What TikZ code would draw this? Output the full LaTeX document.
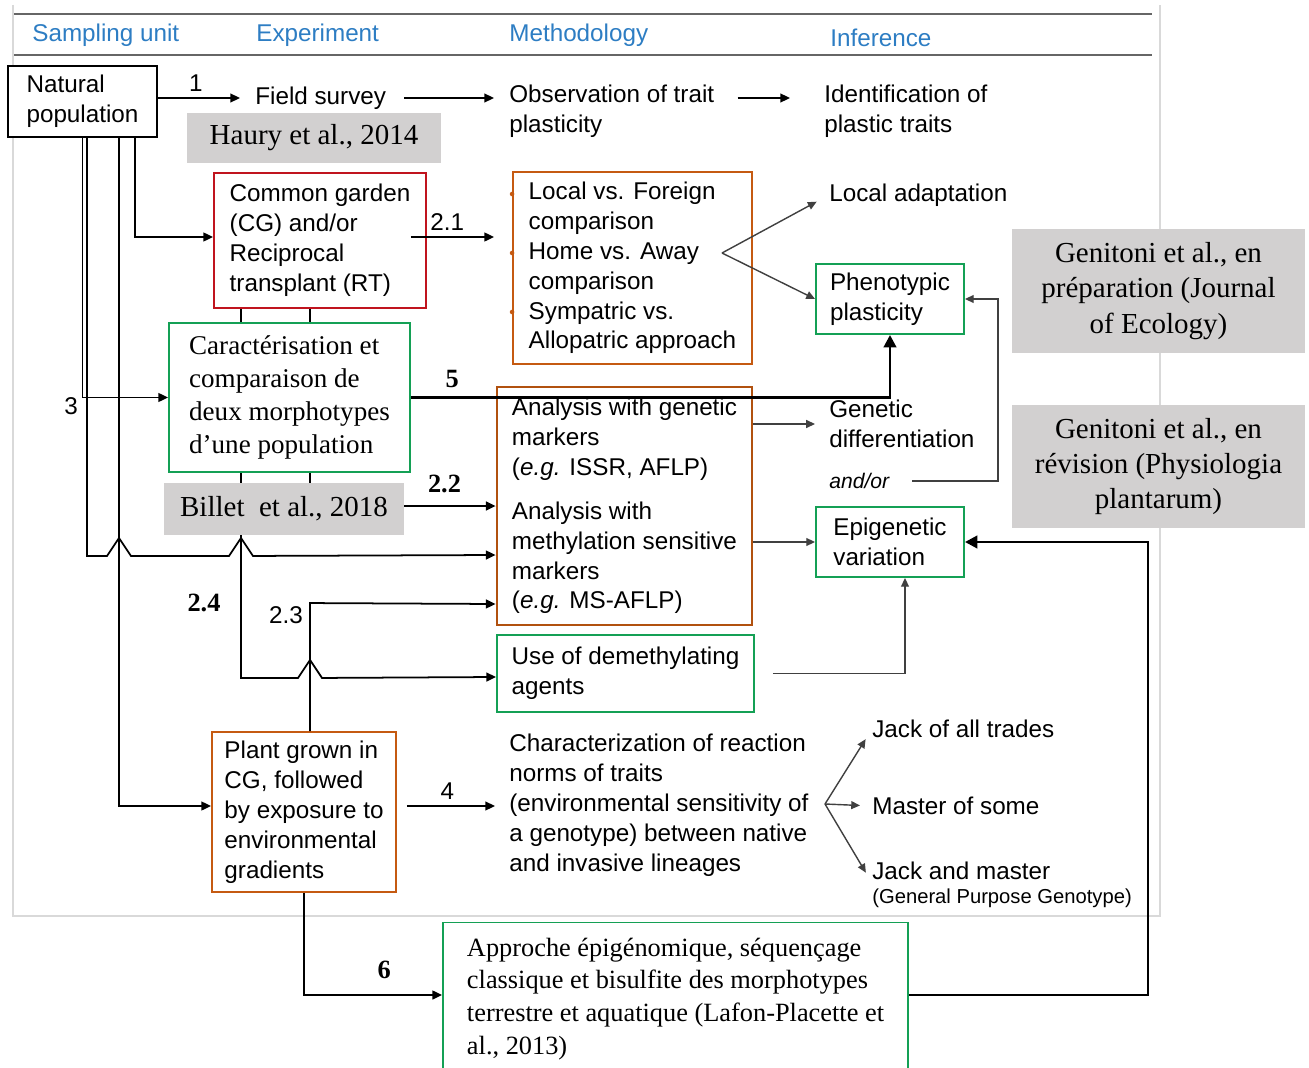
\documentclass[tikz,border=0pt]{standalone}
\usepackage{fontspec}
\setmainfont{Liberation Serif}
\setsansfont{Liberation Sans}
\usetikzlibrary{arrows.meta,backgrounds}

\definecolor{hdrblue}{RGB}{45,125,195}
\definecolor{cgred}{RGB}{192,20,30}
\definecolor{orng}{RGB}{197,90,17}
\definecolor{grn}{RGB}{20,160,85}
\definecolor{refgray}{RGB}{210,208,208}

\tikzset{
  sans/.style={font=\sffamily\fontsize{13.8}{17}\selectfont},
  serif/.style={font=\rmfamily\fontsize{15.4}{18.7}\selectfont},
  txt/.style={sans, align=left, inner sep=0pt, anchor=west},
  hdr/.style={sans, text=hdrblue, inner sep=0pt, anchor=west},
  box/.style={draw, sans, line width=1.1pt, fill=white, align=left, inner sep=0pt},
  ref/.style={fill=refgray, font=\rmfamily\fontsize{16.5}{20}\selectfont, align=center, inner sep=0pt},
  num/.style={sans, inner sep=1pt},
  bnum/.style={font=\rmfamily\bfseries\fontsize{15}{18}\selectfont, inner sep=1pt},
  arr/.style={-{Triangle[length=5.5pt,width=5pt]}, line width=1pt},
  thinarr/.style={-{Triangle[length=5pt,width=4.5pt]}, line width=0.8pt, black!75},
  thickarr/.style={-{Triangle[length=7pt,width=7pt]}, line width=1.6pt},
}

\begin{document}
\begin{tikzpicture}[x=0.02cm, y=-0.02cm]
\useasboundingbox (0,0) rectangle (1309,1068);

% Panel frame and header rules
\draw[black!15, line width=0.6pt] (13,5) -- (13,916) -- (1160,916) -- (1160,5);
\draw[black!60, line width=1.1pt] (14,14) -- (1152,14);
\draw[black!60, line width=1.1pt] (14,55) -- (1152,55);

% Column headers
\node[hdr] (hsamp) at (32,35) {Sampling unit};
\node[hdr] (hexp) at (256,35) {Experiment};
\node[hdr] (hmeth) at (509,35) {Methodology};
\node[hdr] (hinf) at (830,38) {Inference};

% Field survey row
\node[box, minimum width=2.98cm, minimum height=1.42cm] (natpop) at (82.5,101.5) {Natural\\population};
\node[txt] (field) at (255,98) {Field survey};
\node[txt] (obs) at (509,111) {Observation of trait\\plasticity};
\node[txt] (ident) at (824,111) {Identification of\\plastic traits};
\node[ref, minimum width=5.08cm, minimum height=1cm] (haury) at (314,138) {Haury et al., 2014};

% Common garden row
\node[box, draw=cgred, minimum width=4.24cm, minimum height=2.7cm] (cg) at (320,240.5) {Common garden\\(CG) and/or\\Reciprocal\\transplant (RT)};
\node[box, draw=orng, minimum width=4.78cm, minimum height=3.84cm] (local) at (632.5,268) {Local vs. Foreign\\comparison\\Home vs. Away\\comparison\\Sympatric vs.\\Allopatric approach};
\foreach \yb in {194,253,312}
  \fill[orng] (local.west |- 0,\yb) circle (1.3pt);
\node[txt] (locad) at (829,195) {Local adaptation};
\node[box, draw=grn, minimum width=2.96cm, minimum height=1.4cm] (pheno) at (890,299) {Phenotypic\\plasticity};
\node[ref, minimum width=5.86cm, minimum height=2.48cm] (genprep) at (1158.5,291) {Genitoni et al., en\\préparation (Journal\\of Ecology)};

% Markers row
\node[box, serif, draw=grn, minimum width=4.82cm, minimum height=2.98cm] (caract) at (289.5,397.5) {Caractérisation et\\comparaison de\\deux morphotypes\\d'une population};
\node[box, draw=orng!90!black, line width=1.6pt, minimum width=5.1cm, minimum height=4.76cm] (analysis) at (624.5,506) {Analysis with genetic\\markers\\(\textit{e.g.} ISSR, AFLP)\\[8pt]Analysis with\\methylation sensitive\\markers\\(\textit{e.g.} MS-AFLP)};
\node[txt] (gendiff) at (829,424) {Genetic\\differentiation};
\node[txt, font=\sffamily\itshape\fontsize{12}{14}\selectfont] (andor) at (829,481) {and/or};
\node[box, draw=grn, minimum width=2.96cm, minimum height=1.4cm] (epi) at (890,542) {Epigenetic\\variation};
\node[ref, minimum width=5.86cm, minimum height=2.46cm] (genrev) at (1158.5,466.5) {Genitoni et al., en\\révision (Physiologia\\plantarum)};
\node[ref, minimum width=4.8cm, minimum height=1.04cm] (billet) at (284,509) {Billet\ \ et al., 2018};
\node[box, draw=grn, minimum width=5.14cm, minimum height=1.54cm] (demeth) at (625.5,673.5) {Use of demethylating\\agents};

% Reaction norms row
\node[box, draw=orng, minimum width=3.68cm, minimum height=3.2cm] (plant) at (304,812) {Plant grown in\\CG, followed\\by exposure to\\environmental\\gradients};
\node[txt] (charac) at (509,805) {Characterization of reaction\\norms of traits\\(environmental sensitivity of\\a genotype) between native\\and invasive lineages};
\node[txt] (jack1) at (872,729) {Jack of all trades};
\node[txt] (master) at (872,806) {Master of some};
\node[txt] (jack2) at (872,871) {Jack and master};
\node[txt, font=\sffamily\fontsize{11.5}{14}\selectfont] (gpg) at (872,898) {(General Purpose Genotype)};

% Epigenomics
\node[box, font=\rmfamily\fontsize{15}{18.7}\selectfont, draw=grn, minimum width=9.3cm, minimum height=3.06cm] (approche) at (675.5,999) {Approche épigénomique, séquençage\\classique et bisulfite des morphotypes\\terrestre et aquatique (Lafon-Placette et\\al., 2013)};

% Lines hidden behind the boxes
\begin{pgfonlayer}{background}
\draw[arr] ([xshift=-1.58cm]cg.south) -- ++(0,369) -- ++(57,0) -- ++(12,-18) -- ++(12,18) -- (demeth.west |- 0,677);
\draw[line width=1pt] ([xshift=-0.2cm]cg.south) -- ++(0,175);
\end{pgfonlayer}

% Connectors
\draw[arr, shorten >=0.3cm] (natpop.east |- field.west) -- node[num, above=2pt, pos=0.39] {1} (field.west);
\draw[arr, shorten <=0.36cm, shorten >=0.3cm] (field.east) -- (field.east -| obs.west);
\draw[arr, shorten <=0.46cm, shorten >=0.68cm] (obs.east |- field.east) -- (ident.west |- field.east);

\draw[arr] ([xshift=1.05cm]natpop.south) |- ([yshift=0.07cm]cg.west);
\draw[arr, shorten >=0.36cm] ([xshift=-0.32cm, yshift=0.07cm]cg.east) -- node[num, above=2pt, pos=0.36] {2.1} ([yshift=0.07cm]cg.east -| local.west);

\coordinate (fork1) at (722,253);
\draw[thinarr, shorten >=0.28cm] (fork1) -- (locad.west);
\draw[thinarr] (fork1) -- (pheno.west);

\draw[arr] (natpop.south) |- (caract.west);
\node[num] (lab3) at (71,406) {3};
\draw[thickarr] (caract.east) -| node[bnum, above=4pt, pos=0.043] {5} (pheno.south);

\draw[arr] ([xshift=0.09cm]natpop.south) -- ++(0,418) -- ++(20,0) -- ++(12,-18) -- ++(12,18) -- ++(98,0) -- ++(12,-18) -- ++(12,18) -- (analysis.west |- 0,555);
\draw[arr] ([xshift=0.73cm]natpop.south) |- ([yshift=0.12cm]plant.west);

\draw[arr] ([yshift=0.06cm]billet.east) -- node[bnum, above=6pt, pos=0.44] {2.2} ([yshift=0.06cm]billet.east -| analysis.west);
\draw[arr] ([xshift=0.12cm]plant.north) -- ++(0,-128) -- (analysis.west |- 0,604);
\node[num] (lab23) at (286,615) {2.3};
\node[bnum] (lab24) at (204,603) {2.4};

\draw[thinarr, shorten >=0.28cm] (gendiff.west -| analysis.east) -- (gendiff.west);
\draw[thinarr] (epi.west -| analysis.east) -- (epi.west);
\draw[thinarr, shorten <=0.46cm] (andor.east) -| ([xshift=0.66cm]pheno.east) -- (pheno.east);
\draw[thinarr, shorten <=0.36cm] (demeth.east) -| ([xshift=0.3cm]epi.south);

\draw[arr, shorten <=0.2cm, shorten >=0.28cm] ([yshift=0.12cm]plant.east) -- node[num, above=2pt, pos=0.45] {4} ([yshift=0.12cm]plant.east -| charac.west);
\coordinate (fork2) at (825,804);
\draw[thinarr, shorten >=0.24cm] (fork2) -- (jack1.west);
\draw[thinarr, shorten >=0.24cm] (fork2) -- (master.west);
\draw[thinarr, shorten >=0.24cm] (fork2) -- ([yshift=-0.24cm]jack2.west);

\draw[arr] (plant.south) |- node[bnum, above=8pt, pos=0.79] {6} ([yshift=0.08cm]approche.west);
\draw[thickarr] ([yshift=0.08cm]approche.east) -| ([xshift=3.66cm]epi.east) -- (epi.east);
\end{tikzpicture}
\end{document}
